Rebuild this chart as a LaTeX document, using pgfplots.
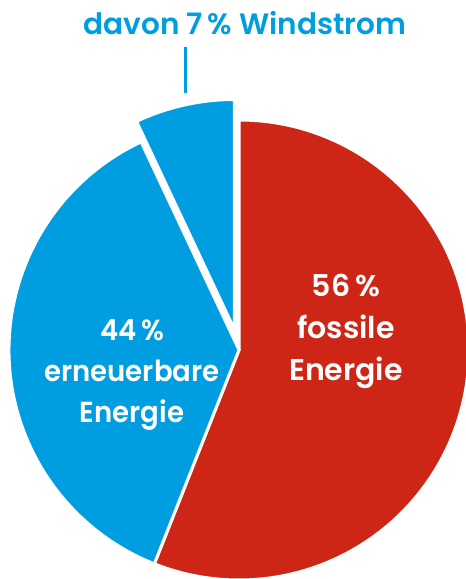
\documentclass[border=0pt]{standalone}
\usepackage{pgfplots}
\usepackage{pgfplotstable}
\pgfplotsset{compat=1.18}
\usepackage{fontspec}
\setmainfont{Poppins}[BoldFont={Poppins SemiBold}]
\definecolor{fossred}{RGB}{206,38,22}
\definecolor{ernblue}{RGB}{0,158,224}

\pgfplotstableread{
label value
fossil 56
erneuerbar 44
wind 7
}\shares

\pgfplotstablegetelem{0}{value}\of\shares \let\vfossil\pgfplotsretval
\pgfplotstablegetelem{1}{value}\of\shares \let\vern\pgfplotsretval
\pgfplotstablegetelem{2}{value}\of\shares \let\vwind\pgfplotsretval
\pgfmathsetmacro{\fend}{90-3.6*\vfossil}
\pgfmathsetmacro{\wend}{90+3.6*\vwind}
\pgfmathsetmacro{\eend}{90+3.6*\vern}
\pgfmathsetmacro{\wmid}{90+1.8*\vwind}

\begin{document}
\begin{tikzpicture}
\begin{axis}[
  x=1pt, y=1pt,
  xmin=0, xmax=466, ymin=0, ymax=579,
  hide axis, clip=true,
]
% fossil
\filldraw[fill=fossred, draw=white, line width=3pt]
  (axis cs:239,229) -- ++(90:230pt) arc[start angle=90, end angle=\fend, radius=230pt] -- cycle;
% renewable without wind
\filldraw[fill=ernblue, draw=white, line width=3pt]
  (axis cs:239,229) -- ++(\wend:230pt) arc[start angle=\wend, end angle=\eend, radius=230pt] -- cycle;
% wind (exploded)
\filldraw[fill=ernblue, draw=white, line width=3pt]
  (axis cs:239,229) ++(\wmid:21pt) -- ++(90:230pt) arc[start angle=90, end angle=\wend, radius=230pt] -- cycle;
% leader line
\addplot[ernblue, line width=3pt, no markers] coordinates {(185,486) (185,532)};
\node[font=\bfseries\fontsize{29.5}{32}\selectfont, text=ernblue] at (axis cs:245,556) {davon 7\,\% Windstrom};
\node[font=\bfseries\fontsize{30}{42}\selectfont, text=white, align=center] at (axis cs:346,248) {56\,\%\\fossile\\Energie};
\node[font=\bfseries\fontsize{29}{41}\selectfont, text=white, align=center, transform shape, xscale=0.95] at (axis cs:132,204) {44\,\%\\erneuerbare\\Energie};
\end{axis}
\pgfresetboundingbox
\path (current axis.south west) rectangle (current axis.north east);
\end{tikzpicture}
\end{document}
